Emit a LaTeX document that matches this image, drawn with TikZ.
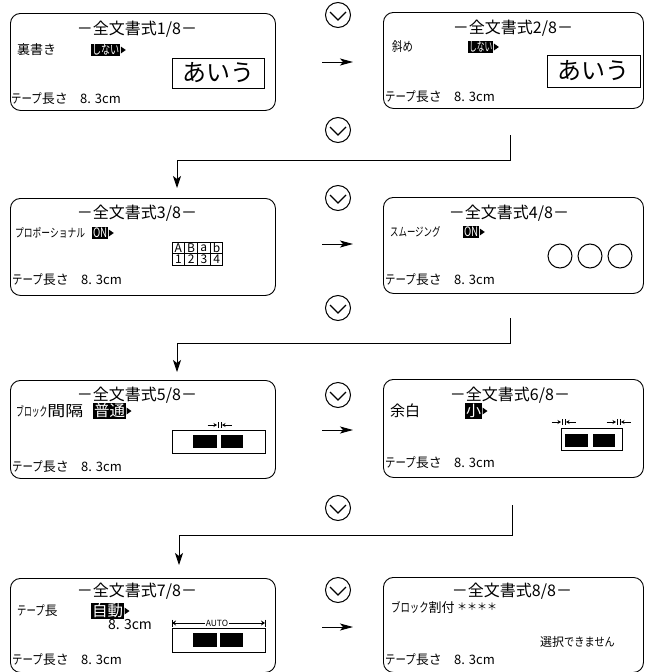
\documentclass[tikz,border=0pt]{standalone}
\usepackage{fontspec}
\usepackage{graphicx}
\newfontfamily\jpfont{Noto Sans CJK JP}
\usetikzlibrary{arrows.meta}

\newcommand{\nw}[2][0.65]{\scalebox{#1}[1]{#2}}
\newcommand{\fs}[1]{\fontsize{#1}{#1}\selectfont}
\newcommand{\tapelen}{\makebox[69pt][l]{\nw[0.8]{テープ}長さ}8. 3cm}

\begin{document}
\begin{tikzpicture}[x=1pt, y=-1pt,
  lpanel/.style={draw, line width=0.9pt, rounded corners=10pt, anchor=north west,
                 minimum width=265pt, minimum height=97pt},
  rpanel/.style={lpanel, minimum width=260pt},
  ttl/.style={inner sep=0pt, font=\jpfont\fs{16}},
  lbl/.style={inner sep=0pt, anchor=west, font=\jpfont\fs{13}},
  hl/.style={lbl, fill=black, text=white, inner sep=0.8pt},
  sample/.style={draw, line width=1pt, inner sep=0pt, font=\jpfont\fs{24}},
  cell/.style={draw, line width=0.8pt, inner sep=0pt, minimum width=12.5pt,
               minimum height=11.5pt, font=\jpfont\fs{12}},
  tape/.style={draw, line width=0.9pt, inner sep=0pt},
  block/.style={fill=black, inner sep=0pt, minimum height=13pt},
  nextarrow/.style={line width=0.9pt, -{Stealth[length=13pt, width=7pt, inset=3pt]}},
  downarrow/.style={line width=0.9pt, -{Stealth[length=12pt, width=8pt, inset=3pt]}},
  downkey/.pic={\draw[line width=1pt] (0,0) circle (12.5pt);
                \draw[line width=1.3pt] (-8,-3) -- (0,5) -- (8,-3);},
  cursor/.pic={\fill (0,-3.5) -- (5,0) -- (0,3.5) -- cycle;},
  gapmark/.pic={\draw[line width=0.8pt, -{Stealth[length=3.5pt, width=4pt]}] (-12,0) -- (-2.5,0);
                \draw[line width=0.8pt, -{Stealth[length=3.5pt, width=4pt]}] (12,0) -- (2.5,0);
                \draw[line width=0.6pt] (-1.6,-3) -- (-1.6,3) (1.6,-3) -- (1.6,3);}
]
  \useasboundingbox (0,0) rectangle (645,672);

  % panels
  \node[lpanel] (p1) at (10,13) {};
  \node[rpanel, minimum height=96pt] (p2) at (383,12) {};
  \node[lpanel] (p3) at (10,198) {};
  \node[rpanel, minimum height=96pt] (p4) at (383,197) {};
  \node[lpanel, minimum height=98pt] (p5) at (10,380) {};
  \node[rpanel, minimum height=98pt] (p6) at (383,379) {};
  \node[lpanel, minimum height=94pt] (p7) at (10,578) {};
  \node[rpanel, minimum height=95pt] (p8) at (383,577) {};

  % titles and tape length lines
  \foreach \n/\tx/\ty in {1/137/29, 2/513/28, 3/137/213, 4/509/213,
                          5/137/395, 6/510/395, 7/137/591, 8/512/591}
    \node[ttl] (t\n) at (\tx,\ty) {－全文書式\n/8－};
  \foreach \n/\lx/\ly in {1/11/99, 2/385/97, 3/12/280, 4/385/280,
                          5/12/467, 6/385/463, 7/12/660, 8/385/660}
    \node[lbl] (len\n) at (\lx,\ly) {\tapelen};

  % keys and arrows between the panels
  \foreach \ky in {15, 130, 198, 308, 395, 508, 590}
    \pic at (338,\ky) {downkey};
  \foreach \n/\ay in {1/62, 2/244, 3/430, 4/627} {
    \coordinate (n\n a) at (322,\ay);
    \coordinate (n\n b) at (353,\ay);
    \draw[nextarrow] (n\n a) -- (n\n b);
  }

  % row to row
  \coordinate (d1) at (510,135);
  \coordinate (a3) at (177,188);
  \draw[downarrow] (d1) -- ++(0,25) -| (a3);
  \coordinate (d2) at (510,318);
  \coordinate (a5) at (177,372);
  \draw[downarrow] (d2) -- ++(0,25) -| (a5);
  \coordinate (d3) at (512,505);
  \coordinate (a7) at (179,565);
  \draw[downarrow] (d3) -- ++(0,30) -| (a7);

  % 1/8
  \node[lbl] (l1) at (17,50) {裏書き};
  \node[hl] (h1) at (91,50) {\nw[0.7]{しない}};
  \pic at ([xshift=0.5pt]h1.east) {cursor};
  \node[sample, minimum width=92pt, minimum height=30pt] (s1) at (218,73) {あいう};

  % 2/8
  \node[lbl] (l2) at (392,47) {\nw[0.8]{斜め}};
  \node[hl] (h2) at (468,47) {\nw[0.6]{しない}};
  \pic at ([xshift=0.5pt]h2.east) {cursor};
  \node[sample, minimum width=93pt, minimum height=32pt] (s2) at (593.5,71) {あいう};

  % 3/8
  \node[lbl, font=\jpfont\fs{12}] (l3) at (15,233) {\nw[0.73]{プロポーショナル}};
  \node[hl] (h3) at (92,233) {\nw[0.75]{ON}};
  \pic at ([xshift=0.5pt]h3.east) {cursor};
  \foreach \c [count=\i] in {A,B,a,b}
    \node[cell] (ca\i) at (165.6+12.75*\i,247.8) {\c};
  \foreach \c [count=\i] in {1,2,3,4}
    \node[cell] (cb\i) at (165.6+12.75*\i,259.3) {\c};

  % 4/8
  \node[lbl, font=\jpfont\fs{12}] (l4) at (390,232) {\nw[0.7]{スムージング}};
  \node[hl] (h4) at (463,232) {\nw[0.75]{ON}};
  \pic at ([xshift=0.5pt]h4.east) {cursor};
  \foreach \cx in {560,590,620}
    \draw[line width=1pt] (\cx,256) circle (12pt);

  % 5/8
  \node[lbl] (l5) at (16,411) {\nw[0.6]{ブロック}\fs{15}\nw[1.2]{間隔}};
  \node[hl, font=\jpfont\fs{15.5}] (h5) at (93,411) {普通};
  \pic at ([xshift=0.5pt]h5.east) {cursor};
  \pic at (219.5,425) {gapmark};
  \node[tape, minimum width=93pt, minimum height=23pt] (tp5) at (218.5,441.5) {};
  \node[block, minimum width=24pt] (b5a) at (205,441.5) {};
  \node[block, minimum width=22pt] (b5b) at (232,441.5) {};

  % 6/8
  \node[lbl, font=\jpfont\fs{15}] (l6) at (390,411) {余白};
  \node[hl, font=\jpfont\fs{15}] (h6) at (465,411) {小};
  \pic at ([xshift=0.5pt]h6.east) {cursor};
  \pic at (563.5,422) {gapmark};
  \pic at (618.5,422) {gapmark};
  \node[tape, minimum width=61pt, minimum height=22pt] (tp6) at (591.5,439) {};
  \node[block, minimum width=23pt] (b6a) at (576.5,440.5) {};
  \node[block, minimum width=22pt] (b6b) at (604,440.5) {};

  % 7/8
  \node[lbl] (l7) at (17,611) {\nw[0.72]{テープ}長};
  \node[hl, font=\jpfont\fs{15.5}] (h7) at (91,611) {自動};
  \pic at ([xshift=0.5pt]h7.east) {cursor};
  \node[lbl, font=\jpfont\fs{14}] (v7) at (108,625) {8. 3cm};
  \coordinate (al) at (172,623);
  \coordinate (ar) at (265,623);
  \draw[line width=0.8pt, {Stealth[length=4pt, width=5pt]}-{Stealth[length=4pt, width=5pt]}] (al) -- (ar);
  \draw[line width=0.8pt] ([yshift=3.5pt]al) -- ([yshift=-3.5pt]al)
                          ([yshift=3.5pt]ar) -- ([yshift=-3.5pt]ar);
  \node[fill=white, inner sep=1pt, font=\jpfont\fs{8.5}] (auto) at (217,623) {AUTO};
  \node[tape, minimum width=93pt, minimum height=24pt] (tp7) at (218.5,640) {};
  \node[block, minimum width=24pt, minimum height=14pt] (b7a) at (205,640) {};
  \node[block, minimum width=23pt, minimum height=14pt] (b7b) at (231.5,640) {};

  % 8/8
  \node[lbl] (l8) at (391,607) {\nw[0.72]{ブロック}割付};
  \node[lbl, font=\jpfont\fs{10}] (m8) at (457,607) {＊＊＊＊};
  \node[lbl, font=\jpfont\fs{12}] (x8) at (540,642) {選択\nw[0.85]{できません}};
\end{tikzpicture}
\end{document}
